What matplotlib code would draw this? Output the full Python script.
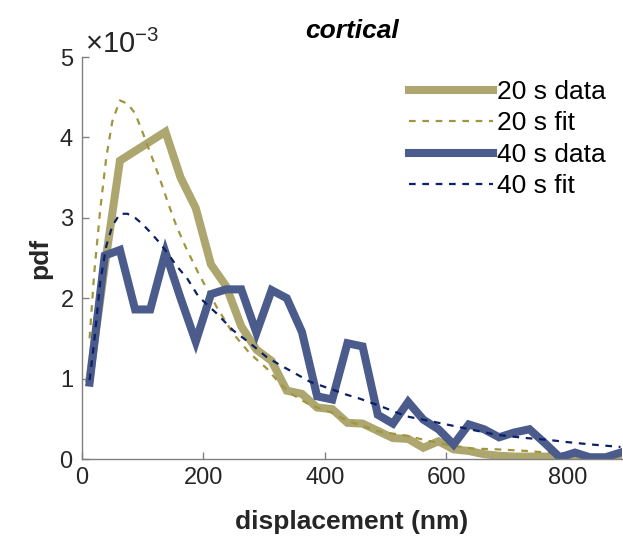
import numpy as np
import matplotlib.pyplot as plt
from matplotlib.ticker import ScalarFormatter

plt.rcParams["font.family"] = ["Liberation Sans", "DejaVu Sans"]
plt.rcParams["mathtext.fontset"] = "custom"
plt.rcParams["mathtext.rm"] = "Liberation Sans"

# binned displacement histograms (bin centres, nm) and pdf values (x 1e-3)
bins = np.arange(12.5, 900, 25.0)

pdf_20s = [1.0, 2.4, 3.71, 3.83, 3.95, 4.07, 3.5, 3.12, 2.42, 2.15,
           1.65, 1.36, 1.22, 0.85, 0.81, 0.64, 0.62, 0.45, 0.44, 0.35,
           0.26, 0.25, 0.14, 0.22, 0.12, 0.1, 0.06, 0.04, 0.03, 0.03,
           0.03, 0.02, 0.02, 0.02, 0.02, 0.02]

pdf_40s = [0.95, 2.53, 2.6, 1.86, 1.86, 2.57, 2.0, 1.46, 2.05, 2.11,
           2.11, 1.57, 2.1, 2.0, 1.58, 0.78, 0.74, 1.44, 1.4, 0.55,
           0.44, 0.71, 0.49, 0.37, 0.18, 0.43, 0.37, 0.27, 0.33, 0.37,
           0.2, 0.02, 0.08, 0.02, 0.02, 0.08]

# fitted curves, sampled on a finer grid
fit_x = [12.5, 20, 30, 40, 50, 62.5, 75, 87.5, 100, 115, 129, 142, 156,
         173, 192, 222, 249, 277, 304, 326, 343, 376, 414, 436, 458, 491,
         535, 568, 607, 645, 684, 733, 766, 800, 840, 887.5]

fit_20s = [1.5, 2.3, 3.1, 3.75, 4.2, 4.46, 4.42, 4.3, 4.06, 3.76, 3.47,
           3.18, 2.89, 2.6, 2.31, 1.89, 1.56, 1.31, 1.13, 0.94, 0.82, 0.67,
           0.57, 0.48, 0.42, 0.34, 0.29, 0.23, 0.17, 0.13, 0.12, 0.1, 0.08,
           0.07, 0.05, 0.04]

fit_40s = [0.98, 1.45, 2.2, 2.65, 2.9, 3.05, 3.05, 3.0, 2.92, 2.8, 2.68,
           2.55, 2.4, 2.25, 2.02, 1.81, 1.6, 1.44, 1.27, 1.17, 1.1, 0.96,
           0.86, 0.8, 0.75, 0.66, 0.53, 0.48, 0.42, 0.36, 0.3, 0.26, 0.24,
           0.21, 0.18, 0.15]

labels = ["20 s data", "20 s fit", "40 s data", "40 s fit"]

olive = "#ada66e"
olive_dark = "#a0963f"
blue = "#4a5b8c"
navy = "#0c2066"

fig = plt.figure(figsize=(6.23, 5.36), dpi=100)
ax = fig.add_axes([82 / 623, 77 / 536, 540 / 623, 402 / 536])

scale = 1e-3
ax.plot(bins, np.array(pdf_20s) * scale, color=olive, lw=5.8,
        solid_joinstyle="miter", label=labels[0])
ax.plot(fit_x, np.array(fit_20s) * scale, color=olive_dark, lw=1.6,
        ls=(0, (3, 3)), label=labels[1])
ax.plot(bins, np.array(pdf_40s) * scale, color=blue, lw=5.8,
        solid_joinstyle="miter", label=labels[2])
ax.plot(fit_x, np.array(fit_40s) * scale, color=navy, lw=1.6,
        ls=(0, (3, 3)), label=labels[3])

ax.set_xlim(0, 890)
ax.set_ylim(0, 5e-3)
ax.set_xticks([0, 200, 400, 600, 800])
ax.set_yticks(np.arange(0, 6) * 1e-3)

fmt = ScalarFormatter(useMathText=True)
fmt.set_powerlimits((-2, 2))
ax.yaxis.set_major_formatter(fmt)
off = ax.yaxis.get_offset_text()
off.set_fontsize(21)
off.set_color("#262626")
off.set_x(0.005)

for side in ["top", "right"]:
    ax.spines[side].set_visible(False)
for side in ["left", "bottom"]:
    ax.spines[side].set_color("#808080")
    ax.spines[side].set_linewidth(1.0)

ax.tick_params(direction="in", length=5, width=1.0, color="#808080",
               labelsize=17, labelcolor="#262626", pad=6)

ax.set_xlabel("displacement (nm)", fontsize=19, fontweight="bold",
              color="#262626", labelpad=15)
ax.set_ylabel("pdf", fontsize=19, fontweight="bold", color="#262626",
              labelpad=5)
ax.set_title("cortical", fontsize=19, fontweight="bold", style="italic",
             pad=14)

ax.legend(loc="upper left", bbox_to_anchor=(409 / 623, 1 - 80 / 536),
          bbox_transform=fig.transFigure, frameon=False, fontsize=19,
          handlelength=3.2, handletextpad=0.15, labelspacing=0.28,
          borderpad=0, borderaxespad=0)

fig.savefig("out.png", dpi=100)
